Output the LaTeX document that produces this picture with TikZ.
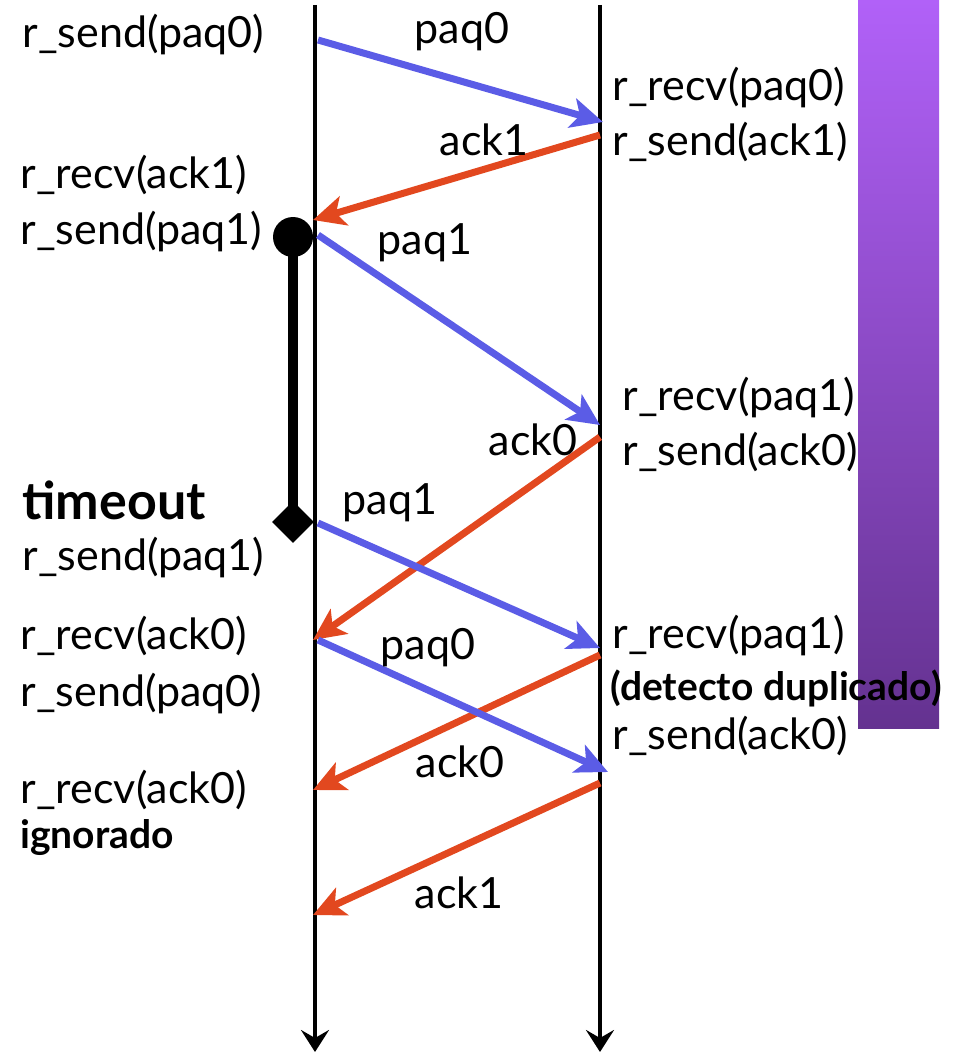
\documentclass[tikz,border=0pt]{standalone}
\usepackage{fontspec}
\setmainfont{Lato}
\usetikzlibrary{arrows.meta,shapes.geometric}
\definecolor{msgblue}{HTML}{5B5CE6}
\definecolor{ackred}{HTML}{E2481F}
\definecolor{purptop}{HTML}{B161F8}
\definecolor{purpbot}{HTML}{643290}
\tikzset{
  lifeline/.style={line width=2pt,-{Stealth[length=11pt,width=14pt,inset=4pt]}},
  msgarrow/.style={msgblue,line width=3.5pt,-{Stealth[length=16pt,width=15pt,inset=4pt]}},
  ackarrow/.style={ackred,line width=3.5pt,-{Stealth[length=16pt,width=15pt,inset=4pt]}},
  lbl/.style={inner sep=0pt,font=\fontsize{21.5}{24}\selectfont},
  lbll/.style={lbl,anchor=west},
  bold/.style={inner sep=0pt,anchor=west,font=\bfseries\fontsize{26}{30}\selectfont},
  smallbold/.style={inner sep=0pt,anchor=west,font=\bfseries\fontsize{19.5}{22}\selectfont},
}
\begin{document}
\begin{tikzpicture}[x=0.5pt,y=-0.5pt]
\useasboundingbox (0,0) rectangle (975,1054);
% purple bar
\shade[top color=purptop,bottom color=purpbot] (858,0) rectangle (939,728);
% lifelines
\coordinate (Ltop) at (315,5);
\coordinate (Lbot) at (315,1052);
\coordinate (Rtop) at (600,5);
\coordinate (Rbot) at (600,1052);
\draw[lifeline] (Ltop) -- (Lbot);
\draw[lifeline] (Rtop) -- (Rbot);
% timer
\node[circle,fill=black,minimum size=20pt,inner sep=0pt] (tstart) at (293,237) {};
\node[diamond,fill=black,minimum size=21pt,inner sep=0pt] (tend) at (293,522) {};
\draw[line width=5pt] (tstart.center) -- (tend.center);
% message endpoints
\coordinate (s1) at (318,40);   \coordinate (e1) at (603,122);
\coordinate (a1s) at (600,135); \coordinate (a1e) at (313,220);
\coordinate (s2) at (318,235);  \coordinate (e2) at (600,425);
\coordinate (a2s) at (600,437); \coordinate (a2e) at (313,640);
\coordinate (s3) at (318,523);  \coordinate (e3) at (600,648);
\coordinate (s4) at (318,640);  \coordinate (e4) at (608,772);
\coordinate (a3s) at (600,655); \coordinate (a3e) at (313,790);
\coordinate (a4s) at (600,783); \coordinate (a4e) at (313,915);
\draw[msgarrow] (s1) -- (e1);
\draw[ackarrow] (a1s) -- (a1e);
\draw[msgarrow] (s2) -- (e2);
\draw[ackarrow] (a2s) -- (a2e);
\draw[msgarrow] (s3) -- (e3);
\draw[ackarrow] (a3s) -- (a3e);
\draw[msgarrow] (s4) -- (e4);
\draw[ackarrow] (a4s) -- (a4e);
% labels on arrows
\node[lbl] (lp0a) at (462,32) {paq0};
\node[lbl] (lk1a) at (484,140) {ack1};
\node[lbl] (lp1a) at (425,243) {paq1};
\node[lbl] (lk0a) at (533,440) {ack0};
\node[lbl] (lp1b) at (390,503) {paq1};
\node[lbl] (lp0b) at (428,648) {paq0};
\node[lbl] (lk0b) at (460,762) {ack0};
\node[lbl] (lk1b) at (459,893) {ack1};
% left side
\node[lbll] (t1) at (22,35) {r\_send(paq0)};
\node[lbll] (t2) at (20,175) {r\_recv(ack1)};
\node[lbll] (t3) at (20,232) {r\_send(paq1)};
\node[bold] (t4) at (22,500) {timeout};
\node[lbll] (t5) at (22,558) {r\_send(paq1)};
\node[lbll] (t6) at (20,636) {r\_recv(ack0)};
\node[lbll] (t7) at (20,694) {r\_send(paq0)};
\node[lbll] (t8) at (20,790) {r\_recv(ack0)};
\node[smallbold] (t9) at (20,838) {ignorado};
% right side
\node[lbll] (u1) at (612,88) {r\_recv(paq0)};
\node[lbll] (u2) at (612,142) {r\_send(ack1)};
\node[lbll] (u3) at (622,398) {r\_recv(paq1)};
\node[lbll] (u4) at (622,452) {r\_send(ack0)};
\node[lbll] (u5) at (612,636) {r\_recv(paq1)};
\node[smallbold] (u6) at (610,688) {(detecto duplicado)};
\node[lbll] (u7) at (612,736) {r\_send(ack0)};
\end{tikzpicture}
\end{document}
